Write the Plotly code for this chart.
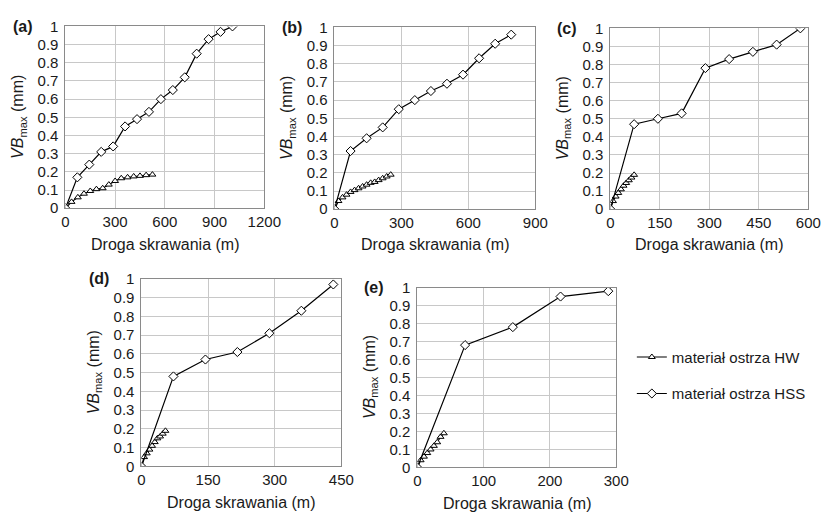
import plotly.graph_objects as go

# ---------------- data ----------------
a_hss_x = [0, 72, 144, 216, 288, 360, 432, 504, 576, 648, 720, 792, 864, 936, 1008]
a_hss_y = [0, 0.17, 0.24, 0.31, 0.34, 0.45, 0.49, 0.53, 0.60, 0.65, 0.72, 0.85, 0.93, 0.97, 1.0]
a_hw_x = [0, 37, 75, 112, 150, 187, 225, 262, 300, 337, 375, 412, 450, 487, 525]
a_hw_y = [0, 0.035, 0.06, 0.08, 0.095, 0.105, 0.11, 0.13, 0.15, 0.165, 0.17, 0.175, 0.178, 0.182, 0.185]

b_hss_x = [0, 72, 144, 216, 288, 360, 432, 504, 576, 648, 720, 792]
b_hss_y = [0, 0.32, 0.39, 0.45, 0.55, 0.60, 0.65, 0.69, 0.74, 0.83, 0.91, 0.96]
b_hw_x = [0, 18, 36, 54, 72, 90, 108, 126, 144, 162, 180, 198, 216, 234, 252]
b_hw_y = [0, 0.045, 0.065, 0.08, 0.095, 0.105, 0.115, 0.125, 0.135, 0.145, 0.15, 0.16, 0.17, 0.18, 0.19]

c_hss_x = [0, 72, 144, 216, 288, 360, 432, 504, 576]
c_hss_y = [0, 0.47, 0.50, 0.53, 0.78, 0.83, 0.87, 0.91, 1.0]
c_hw_x = [0, 8, 16, 24, 32, 40, 48, 56, 64, 72]
c_hw_y = [0, 0.045, 0.07, 0.09, 0.11, 0.13, 0.145, 0.16, 0.175, 0.19]

d_hss_x = [0, 72, 144, 216, 288, 360, 432]
d_hss_y = [0, 0.48, 0.57, 0.61, 0.71, 0.83, 0.97]
d_hw_x = [0, 6, 12, 18, 24, 30, 36, 42, 48, 54]
d_hw_y = [0, 0.05, 0.07, 0.09, 0.11, 0.13, 0.15, 0.16, 0.175, 0.19]

e_hss_x = [0, 72, 144, 216, 288]
e_hss_y = [0, 0.68, 0.78, 0.95, 0.98]
e_hw_x = [0, 5, 10, 15, 20, 25, 30, 35, 40]
e_hw_y = [0, 0.04, 0.06, 0.08, 0.10, 0.12, 0.14, 0.17, 0.19]

panel_labels = ["(a)", "(b)", "(c)", "(d)", "(e)"]
x_ranges = [1200, 900, 600, 450, 300]
x_dticks = [300, 300, 150, 150, 100]
hw_name = "materiał ostrza HW"
hss_name = "materiał ostrza HSS"
x_title = "Droga skrawania (m)"
y_title = "<i>VB</i><sub>max</sub> (mm)"

# ---------------- layout geometry (pixels) ----------------
W, H = 837, 518
# (left, right, top, bottom) of each plot area
boxes = [(63, 267, 18, 206), (339, 545, 19, 207), (622, 825, 20, 207),
         (141, 346, 279, 473), (424, 628, 288, 474)]

series = [(a_hw_x, a_hw_y, a_hss_x, a_hss_y), (b_hw_x, b_hw_y, b_hss_x, b_hss_y),
          (c_hw_x, c_hw_y, c_hss_x, c_hss_y), (d_hw_x, d_hw_y, d_hss_x, d_hss_y),
          (e_hw_x, e_hw_y, e_hss_x, e_hss_y)]

FONT = "Liberation Sans, Arial, sans-serif"
TXT = "#1a1a1a"
fig = go.Figure()
layout = dict(width=W, height=H, margin=dict(l=0, r=0, t=0, b=0),
              paper_bgcolor="white", plot_bgcolor="white",
              font=dict(family=FONT, size=15, color=TXT), annotations=[])

for i, ((l, r, t, b), (hwx, hwy, hssx, hssy)) in enumerate(zip(boxes, series)):
    n = "" if i == 0 else str(i + 1)
    xa, ya = "x" + n, "y" + n
    fig.add_trace(go.Scatter(x=hwx, y=hwy, xaxis=xa, yaxis=ya, mode="lines+markers",
                             name=hw_name, legendgroup="hw", showlegend=(i == 0),
                             line=dict(color="black", width=1.2),
                             marker=dict(symbol="triangle-up", size=6, color="white",
                                         line=dict(color="black", width=1))))
    fig.add_trace(go.Scatter(x=hssx, y=hssy, xaxis=xa, yaxis=ya, mode="lines+markers",
                             name=hss_name, legendgroup="hss", showlegend=(i == 0),
                             line=dict(color="black", width=1.2),
                             marker=dict(symbol="diamond", size=7, color="white",
                                         line=dict(color="black", width=1))))
    axcommon = dict(showgrid=True, gridcolor="#c8c8c8", gridwidth=1, showline=True,
                    linecolor="#8a8a8a", linewidth=1, mirror=True, zeroline=False,
                    ticks="", tickfont=dict(size=15, color=TXT))
    layout["xaxis" + n] = dict(axcommon, domain=[l / W, r / W], anchor=ya,
                               range=[0, x_ranges[i]], dtick=x_dticks[i], tick0=0)
    layout["yaxis" + n] = dict(axcommon, domain=[1 - b / H, 1 - t / H], anchor=xa,
                               range=[0, 1], dtick=0.1, tick0=0, ticklabelstandoff=3)
    cx = (l + r) / 2 / W
    layout["annotations"].append(dict(text=x_title, xref="paper", yref="paper",
                                      x=cx, y=1 - (b + 37) / H, showarrow=False,
                                      xanchor="center", yanchor="middle",
                                      font=dict(size=16, color=TXT)))
    layout["annotations"].append(dict(text=y_title, xref="paper", yref="paper",
                                      x=(l - 48) / W, y=1 - ((t + b) / 2) / H,
                                      textangle=-90, showarrow=False,
                                      xanchor="center", yanchor="middle",
                                      font=dict(size=16, color=TXT)))
    layout["annotations"].append(dict(text="<b>" + panel_labels[i] + "</b>", xref="paper",
                                      yref="paper", x=(l - 44) / W, y=1 - t / H,
                                      showarrow=False, xanchor="center", yanchor="middle",
                                      font=dict(size=16, color=TXT)))

layout["legend"] = dict(x=644 / W, y=1 - 343 / H, xanchor="left", yanchor="top",
                        font=dict(size=15, color=TXT), tracegroupgap=14,
                        bgcolor="rgba(0,0,0,0)", itemwidth=30)
fig.update_layout(**layout)
fig.write_html("out.html")
